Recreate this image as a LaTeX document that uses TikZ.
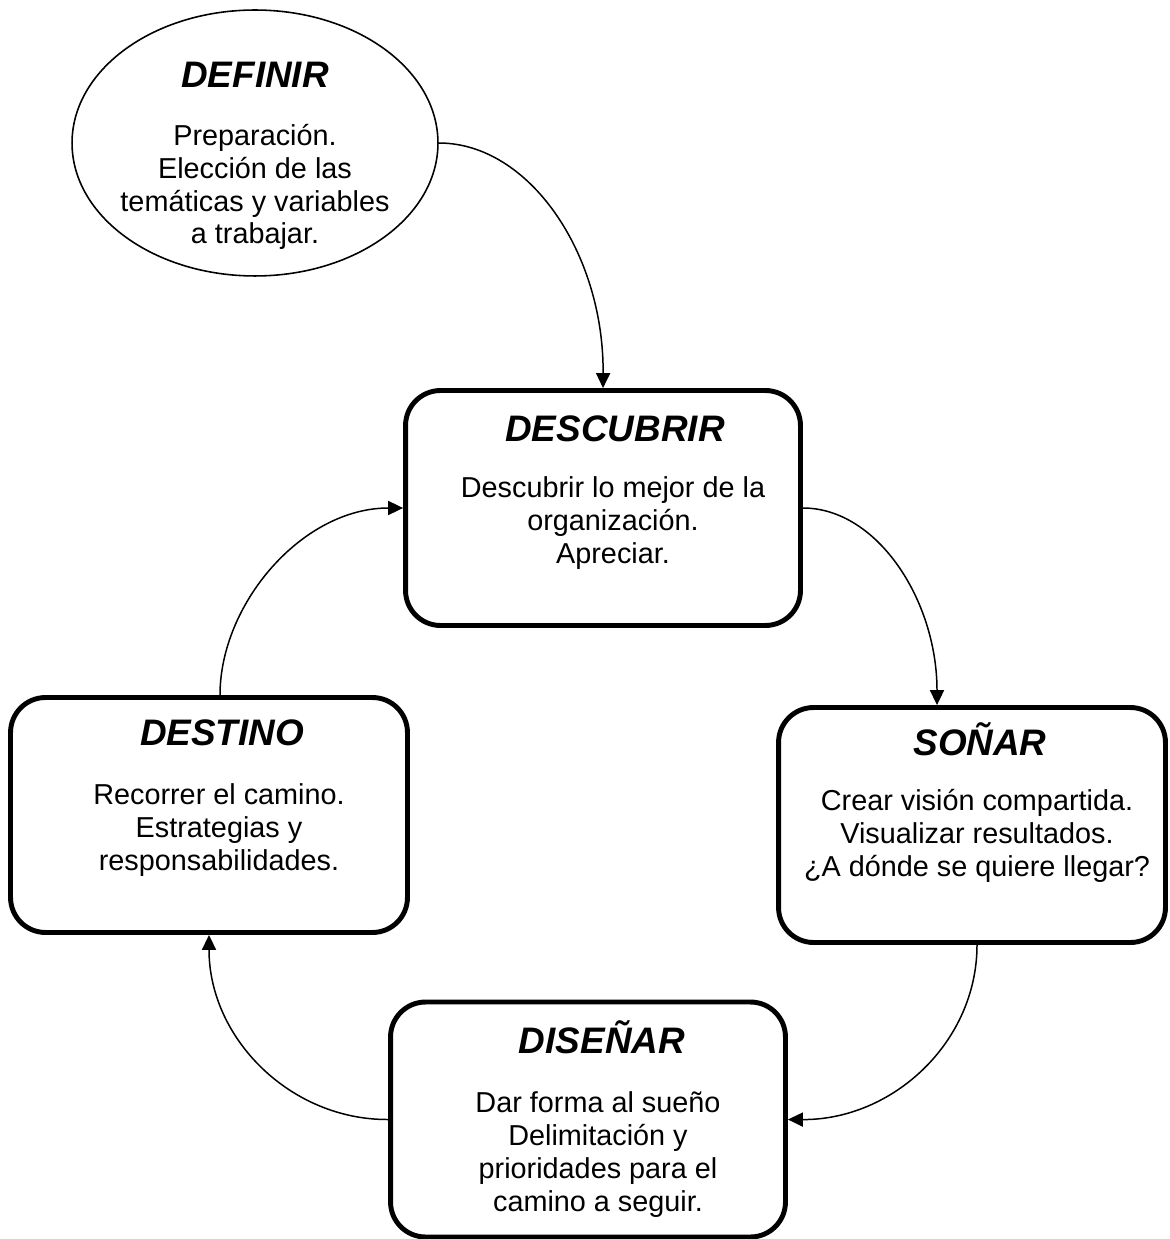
\documentclass[tikz,border=0pt]{standalone}
\usepackage{fontspec}
\setmainfont{Liberation Sans}
\usetikzlibrary{shapes.geometric,arrows.meta,calc}

\begin{document}
\begin{tikzpicture}[x=0.02cm,y=-0.02cm,
  stage/.style={draw, line width=2.8pt, rounded corners=0.7cm,
    minimum width=7.9cm, minimum height=4.7cm, inner sep=0pt},
  oval/.style={draw, ellipse, line width=0.9pt, inner sep=0pt,
    minimum width=7.32cm, minimum height=5.32cm},
  ttl/.style={font=\fontsize{21}{24}\selectfont\bfseries\itshape,
    anchor=base, inner sep=0pt},
  % multi-line text: the base anchor sits on the last line
  body/.style={font=\fontsize{16.4}{18.7}\selectfont, align=center,
    anchor=base, inner sep=0pt},
  flow/.style={line width=0.85pt, -{Triangle[length=8.5pt,width=8pt]}}]
\useasboundingbox (0,0) rectangle (1169,1239);

% the five stages
\node[oval] (definir) at (255,143) {};
\node[stage] (descubrir) at (603,508) {};
\node[stage, minimum width=7.74cm] (sonar) at (972,825) {};
\node[stage, minimum width=7.94cm] (destino) at (209,815) {};
\node[stage] (disenar) at (588,1119.5) {};

% titles
\node[ttl] (definirT) at (255,88) {DEFINIR};
\node[ttl] (descubrirT) at (615,441) {DESCUBRIR};
\node[ttl] (sonarT) at (980,755) {SOÑAR};
\node[ttl] (destinoT) at (222,745) {DESTINO};
\node[ttl] (disenarT) at (602,1053) {DISEÑAR};

% descriptions
\node[body] (definirB) at (255,244)
  {Preparación.\\Elección de las\\temáticas y variables\\a trabajar.};
\node[body] (descubrirB) at (613,563)
  {Descubrir lo mejor de la\\organización.\\Apreciar.};
\node[body] (sonarB) at (977,876)
  {Crear visión compartida.\\Visualizar resultados.\\¿A dónde se quiere llegar?};
\node[body] (destinoB) at (219,870)
  {Recorrer el camino.\\Estrategias y\\responsabilidades.};
\node[body] (disenarB) at (598,1211)
  {Dar forma al sueño\\Delimitación y\\prioridades para el\\camino a seguir.};

% cycle connectors
\draw[flow] (definir.east) .. controls (529,143) and (604,253) .. (descubrir.north);
\draw[flow] (descubrir.east) .. controls (877,508) and (937,600) .. ($(sonar.north)+(-35,0)$);
\draw[flow] ($(sonar.south)+(5,0)$) .. controls (977,1042) and (893,1120) .. (disenar.east);
\draw[flow] (disenar.west) .. controls (291,1120) and (209,1039) .. (destino.south);
\draw[flow] ($(destino.north)+(11,0)$) .. controls (220,604) and (302,508) .. (descubrir.west);
\end{tikzpicture}
\end{document}
